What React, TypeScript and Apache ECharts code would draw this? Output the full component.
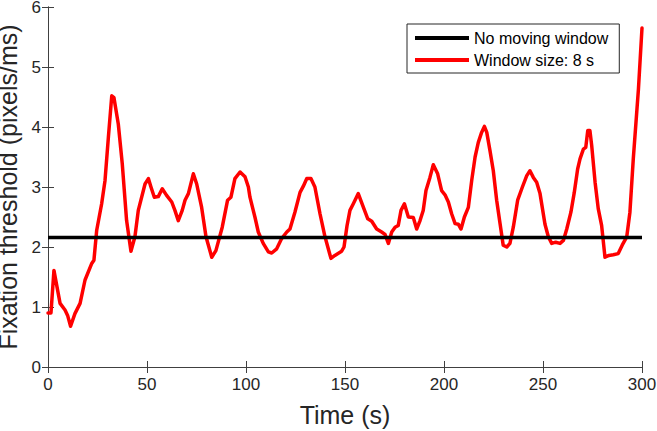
import React, { useEffect, useRef } from "react";
import * as echarts from "echarts";

const times: number[] = [
  0, 1.5, 3.0, 6.1, 8.6, 9.9, 11.4, 13.6, 16.2, 18.7, 22.0, 23.2, 24.6, 27.1, 28.8, 30.5, 32.2, 33.3, 35.5, 37.5,
  39.7, 41.9, 43.9, 45.6, 49.0, 50.7, 52.0, 53.7, 55.7, 57.7, 59.9, 62.5, 64.1, 65.8, 67.8, 69.2, 70.9, 73.4,
  75.1, 77.6, 79.8, 82.7, 84.8, 88.0, 90.7, 92.4, 94.4, 97.0, 99.5, 101.2, 102.0, 104.5, 106.2, 108.7, 111.3,
  113.0, 115.5, 118.0, 120.6, 122.2, 124.7, 127.3, 128.9, 130.7, 132.8, 134.8, 137.4, 139.9, 142.9, 144.9,
  148.3, 149.5, 151.0, 152.5, 154.2, 156.7, 159.3, 161.5, 163.5, 166.0, 168.5, 170.2, 171.9, 173.6, 175.3,
  176.9, 178.3, 180.0, 182.0, 184.5, 186.2, 187.9, 189.5, 190.9, 192.9, 194.6, 196.8, 198.8, 200.5, 202.2,
  203.9, 205.6, 207.2, 208.6, 210.3, 212.3, 214.0, 215.7, 217.3, 219.0, 220.4, 221.6, 223.2, 224.9, 226.6,
  228.3, 229.9, 231.7, 233.3, 235.0, 237.2, 239.6, 241.8, 243.4, 245.1, 246.8, 248.5, 251.0, 252.7, 254.4,
  256.4, 258.6, 260.3, 262.0, 264.1, 265.8, 267.5, 268.7, 270.4, 271.6, 272.6, 273.7, 274.6, 276.3, 277.9,
  279.6, 281.3, 283.3, 285.5, 288.0, 290.0, 292.3, 293.9, 295.6, 298.2, 300.0,
];

const windowValues: number[] = [
  0.90, 0.90, 1.61, 1.06, 0.95, 0.86, 0.68, 0.89, 1.06, 1.45, 1.72, 1.78, 2.28, 2.72, 3.11, 3.83, 4.52, 4.49, 4.05, 3.39,
  2.44, 1.93, 2.17, 2.61, 3.05, 3.14, 3.00, 2.83, 2.84, 2.97, 2.86, 2.75, 2.61, 2.44, 2.61, 2.78, 2.89, 3.22,
  3.05, 2.66, 2.17, 1.83, 1.94, 2.33, 2.78, 2.83, 3.14, 3.25, 3.17, 3.00, 2.83, 2.50, 2.25, 2.06, 1.92,
  1.90, 1.97, 2.14, 2.25, 2.30, 2.58, 2.91, 3.01, 3.14, 3.14, 3.00, 2.55, 2.17, 1.81, 1.86,
  1.93, 2.00, 2.35, 2.61, 2.72, 2.89, 2.66, 2.47, 2.43, 2.30, 2.25, 2.21, 2.06, 2.25, 2.33,
  2.36, 2.61, 2.72, 2.50, 2.49, 2.30, 2.44, 2.61, 2.94, 3.16, 3.37, 3.22, 2.94, 2.87, 2.75,
  2.55, 2.39, 2.38, 2.30, 2.50, 2.66, 3.11, 3.50, 3.74, 3.91, 4.01, 3.91, 3.61, 3.27, 2.78,
  2.39, 2.03, 2.00, 2.06, 2.33, 2.78, 3.00, 3.19, 3.27, 3.16, 3.08, 2.89, 2.38, 2.17, 2.06,
  2.08, 2.06, 2.11, 2.30, 2.58, 2.91, 3.30, 3.47, 3.63, 3.66, 3.94, 3.94, 3.69, 3.08, 2.64,
  2.36, 1.83, 1.86, 1.87, 1.89, 2.03, 2.17, 2.58, 3.47, 4.63, 5.65,
];

const noWindowTimes: number[] = [0, 300];
const noWindowValue = 2.16;

const xTicks: number[] = [0, 50, 100, 150, 200, 250, 300];
const yTicks: number[] = [0, 1, 2, 3, 4, 5, 6];

const seriesNames = ["No moving window", "Window size: 8 s"];

export default function App() {
  const ref = useRef<HTMLDivElement>(null);
  useEffect(() => {
    if (!ref.current) return;
    const chart = echarts.init(ref.current, undefined, { renderer: "svg" });
    const font = "'Liberation Sans', Arial, Helvetica, sans-serif";
    const axisColor = "#404040";
    const textColor = "#262626";
    const redData = times.map((t, i) => [t, windowValues[i]]);
    const blackData = noWindowTimes.map((t) => [t, noWindowValue]);
    const baseX = {
      type: "value" as const,
      min: xTicks[0],
      max: xTicks[xTicks.length - 1],
      interval: 50,
      splitLine: { show: false },
    };
    const baseY = {
      type: "value" as const,
      min: yTicks[0],
      max: yTicks[yTicks.length - 1],
      interval: 1,
      splitLine: { show: false },
    };
    chart.setOption({
      animation: false,
      backgroundColor: "#ffffff",
      textStyle: { fontFamily: font },
      grid: { left: 48, right: 15, top: 7, bottom: 64, containLabel: false, outerBoundsMode: "none" },
      legend: {
        data: seriesNames,
        orient: "vertical",
        left: 407,
        top: 24,
        padding: [6, 11, 5, 8],
        itemGap: 6,
        itemWidth: 54,
        itemHeight: 4,
        icon: "rect",
        backgroundColor: "#ffffff",
        borderColor: "#262626",
        borderWidth: 1,
        textStyle: { fontSize: 16, color: "#000000", fontFamily: font },
      },
      xAxis: [
        {
          ...baseX,
          position: "bottom",
          name: "Time (s)",
          nameLocation: "middle",
          nameGap: 35,
          nameTextStyle: { fontSize: 25, color: textColor, fontFamily: font },
          axisLine: { show: true, lineStyle: { color: axisColor, width: 1 } },
          axisTick: { show: true, inside: true, length: 6, lineStyle: { color: axisColor } },
          axisLabel: { show: true, fontSize: 17, color: textColor, margin: 9, fontFamily: font },
        },
        {
          ...baseX,
          position: "top",
          axisLine: { show: true, lineStyle: { color: axisColor, width: 1 } },
          axisTick: { show: true, inside: true, length: 6, lineStyle: { color: axisColor } },
          axisLabel: { show: false },
        },
      ],
      yAxis: [
        {
          ...baseY,
          position: "left",
          name: "Fixation threshold (pixels/ms)",
          nameLocation: "middle",
          nameGap: 22,
          nameTextStyle: { fontSize: 25, lineHeight: 21, color: textColor, fontFamily: font },
          axisLine: { show: true, lineStyle: { color: axisColor, width: 1 } },
          axisTick: { show: true, inside: true, length: 6, lineStyle: { color: axisColor } },
          axisLabel: { show: true, fontSize: 17, lineHeight: 13, color: textColor, margin: 7, fontFamily: font },
        },
        {
          ...baseY,
          position: "right",
          axisLine: { show: true, lineStyle: { color: axisColor, width: 1 } },
          axisTick: { show: true, inside: true, length: 6, lineStyle: { color: axisColor } },
          axisLabel: { show: false },
        },
      ],
      series: [
        {
          name: seriesNames[1],
          type: "line",
          data: redData,
          showSymbol: false,
          symbol: "none",
          z: 2,
          lineStyle: { color: "#ff0000", width: 3.5, join: "round", cap: "round" },
          itemStyle: { color: "#ff0000" },
        },
        {
          name: seriesNames[0],
          type: "line",
          data: blackData,
          showSymbol: false,
          symbol: "none",
          z: 3,
          lineStyle: { color: "#000000", width: 3.5 },
          itemStyle: { color: "#000000" },
        },
      ],
    });
    return () => chart.dispose();
  }, []);
  return (
    <div
      ref={ref}
      style={{ position: "fixed", left: 0, top: 0, width: 657, height: 431 }}
    />
  );
}
